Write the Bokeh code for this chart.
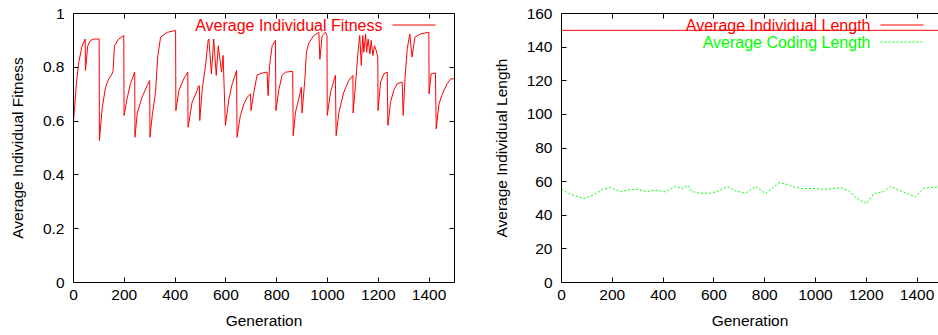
from bokeh.plotting import figure
from bokeh.layouts import row
from bokeh.models import Range1d, LinearAxis, FixedTicker, CustomJSTickFormatter, Label, Arrow, BoxAnnotation
from bokeh.embed import file_html
from bokeh.resources import INLINE

# ---------------- data ----------------
gen_fit = [0, 12, 21, 34, 46, 47, 56, 67, 80, 101, 102, 113, 126, 139, 152, 156, 161, 178, 198, 199,
           211, 224, 241, 242, 251, 270, 290, 300, 301, 310, 323, 332, 343, 369, 402, 403, 415, 434,
           450, 451, 467, 487, 491, 496, 497, 507, 520, 530, 533, 543, 552, 562, 570, 583, 589, 598,
           612, 625, 642, 644, 657, 671, 684, 697, 699, 710, 723, 743, 762, 766, 772, 782, 795, 797,
           808, 821, 835, 863, 865, 874, 887, 897, 900, 911, 917, 926, 946, 966, 970, 979, 992, 998,
           999, 1012, 1031, 1034, 1045, 1064, 1084, 1100, 1101, 1110, 1120, 1127, 1133, 1139, 1143,
           1150, 1154, 1160, 1167, 1172, 1179, 1185, 1192, 1198, 1199, 1209, 1222, 1235, 1238, 1248,
           1261, 1274, 1294, 1298, 1305, 1314, 1324, 1333, 1344, 1366, 1399, 1400, 1408, 1425, 1428,
           1439, 1452, 1471, 1485, 1500]
fitness = [0.60, 0.745, 0.82, 0.88, 0.905, 0.788, 0.88, 0.90, 0.905, 0.905, 0.528, 0.647, 0.726, 0.757,
           0.776, 0.788, 0.88, 0.905, 0.918, 0.621,
           0.683, 0.739, 0.782, 0.54, 0.63, 0.689, 0.732, 0.751, 0.54, 0.621, 0.707, 0.844, 0.912, 0.93,
           0.937, 0.639, 0.714, 0.757,
           0.782, 0.577, 0.67, 0.714, 0.73, 0.73, 0.602, 0.72, 0.807, 0.90, 0.905, 0.776, 0.905, 0.77,
           0.88, 0.782, 0.844, 0.584,
           0.683, 0.739, 0.788, 0.54, 0.621, 0.664, 0.689, 0.701, 0.639, 0.707, 0.772, 0.779, 0.782,
           0.695, 0.807, 0.88, 0.90, 0.639,
           0.714, 0.77, 0.782, 0.785, 0.546, 0.633, 0.683, 0.726, 0.63, 0.757, 0.856, 0.89, 0.918, 0.93,
           0.83, 0.918, 0.93, 0.918,
           0.621, 0.707, 0.77, 0.546, 0.633, 0.707, 0.751, 0.77, 0.63, 0.732, 0.856, 0.918, 0.807,
           0.918, 0.856,
           0.924, 0.856, 0.905, 0.85, 0.90, 0.844, 0.88, 0.862, 0.838, 0.639, 0.745, 0.776, 0.782,
           0.584, 0.67,
           0.714, 0.739, 0.745, 0.621, 0.757, 0.869, 0.924, 0.838, 0.912, 0.924, 0.93, 0.701, 0.776,
           0.779, 0.571,
           0.664, 0.70, 0.739, 0.757, 0.757]

gen_len = [0, 250, 500, 750, 1000, 1250, 1500]
ind_length = [150, 150, 150, 150, 150, 150, 150]

gen_code = [0, 35, 88, 127, 160, 193, 232, 258, 298, 337, 370, 409, 449, 475, 499, 514, 547, 587,
            619, 652, 685, 724, 764, 803, 856, 888, 915, 954, 994, 1033, 1066, 1098, 1131, 1158,
            1201, 1230, 1269, 1295, 1328, 1361, 1394, 1426, 1479, 1500]
coding_length = [55.4, 52.5, 49.9, 52.1, 55.4, 56.4, 53.9, 55.0, 55.4, 54.1, 54.9, 53.9, 57.2, 55.8,
                 57.8, 54.1, 53.1, 53.1, 54.5, 57.2, 54.5, 53.1, 57.2, 52.9, 59.4, 58.4, 56.8, 55.8,
                 56.0, 55.4, 55.8, 56.4, 54.5, 50.5, 46.9, 52.9, 54.1, 57.2, 54.9, 52.9, 50.9, 56.0,
                 56.8, 56.8]

x_ticks = [0, 200, 400, 600, 800, 1000, 1200, 1400]
fit_ticks = [0, 0.2, 0.4, 0.6, 0.8, 1]
len_ticks = [0, 20, 40, 60, 80, 100, 120, 140, 160]

FONT = "Liberation Sans"
FS = "15.5px"
RED = "red"
GREEN = "lime"

fmt = CustomJSTickFormatter(code="return String(tick);")


def style_axis(ax, ticks, show_labels=True):
    ax.ticker = FixedTicker(ticks=ticks)
    ax.axis_line_color = "black"
    ax.axis_line_width = 1
    ax.major_tick_in = 5
    ax.major_tick_out = 0
    ax.major_tick_line_color = "black"
    ax.minor_tick_line_color = None
    ax.major_label_text_font = FONT
    ax.axis_label_text_font = FONT
    ax.axis_label_text_font_size = FS
    ax.axis_label_text_font_style = "normal"
    ax.axis_label_text_color = "black"
    if show_labels:
        ax.major_label_text_font_size = FS
        ax.major_label_text_color = "black"
        ax.formatter = fmt
    else:
        ax.major_label_text_font_size = "0px"
        ax.major_label_text_color = None
        ax.major_label_standoff = 0
        ax.axis_label = None


def make_fig(frame_w, mb_right, y_end, x_end, yticks, ylabel, mirror_right):
    p = figure(frame_width=frame_w, frame_height=269,
               min_border_left=73, min_border_right=mb_right,
               min_border_top=13, min_border_bottom=53,
               x_range=Range1d(0, x_end), y_range=Range1d(0, y_end),
               output_backend="svg", toolbar_location=None, title=None)
    p.outline_line_color = None
    p.xgrid.visible = False
    p.ygrid.visible = False
    p.background_fill_color = "white"
    p.border_fill_color = "white"
    style_axis(p.xaxis[0], x_ticks)
    p.xaxis[0].axis_label = "Generation"
    p.xaxis[0].major_label_standoff = 7
    p.xaxis[0].axis_label_standoff = 9
    style_axis(p.yaxis[0], yticks)
    p.yaxis[0].axis_label = ylabel
    p.yaxis[0].major_label_standoff = 9
    p.yaxis[0].axis_label_standoff = 14
    top = LinearAxis()
    style_axis(top, x_ticks, show_labels=False)
    p.add_layout(top, "above")
    if mirror_right:
        right = LinearAxis()
        style_axis(right, yticks, show_labels=False)
        p.add_layout(right, "right")
    return p


def legend_entry(p, text, color, ytop, dash="solid"):
    p.add_layout(Label(x=309, y=ytop, x_units="screen", y_units="screen", text=text,
                       text_font=FONT, text_font_size="16px", text_color=color,
                       text_align="right", text_baseline="middle"))
    p.add_layout(Arrow(x_start=319, y_start=ytop, x_end=362, y_end=ytop,
                       start_units="screen", end_units="screen", start=None, end=None,
                       line_color=color, line_width=1.2, line_dash=dash))


# left panel
p1 = make_fig(381, 34, 1, 1500, fit_ticks, "Average Individual Fitness", True)
p1.line(gen_fit, fitness, line_color=RED, line_width=1)
legend_entry(p1, "Average Individual Fitness", RED, 257.5)

# right panel (cropped at the right edge)
p2 = make_fig(377, 0, 160, 1500 * 377 / 381, len_ticks, "Average Individual Length", False)
p2.line(gen_len, ind_length, line_color=RED, line_width=1)
p2.line(gen_code, coding_length, line_color=GREEN, line_width=1, line_dash="2 2")
legend_entry(p2, "Average Individual Length", RED, 257.5)
legend_entry(p2, "Average Coding Length", GREEN, 240.5, dash="2 2")

layout = row(p1, p2)
open("out.html", "w").write(file_html(layout, INLINE))
